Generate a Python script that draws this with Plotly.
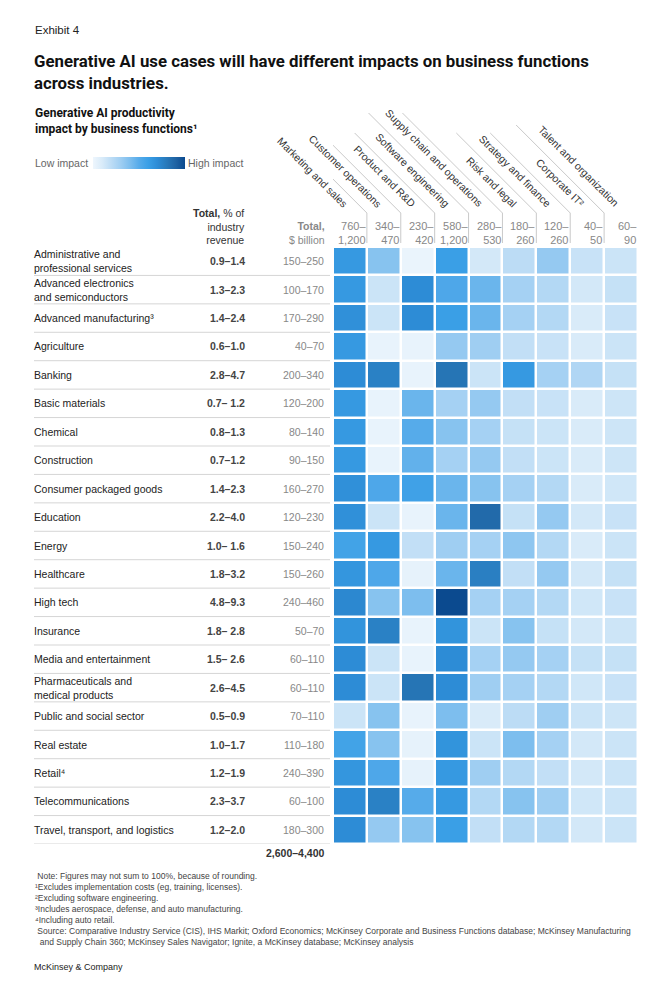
import plotly.graph_objects as go

W, H = 667, 990

functions = ["Marketing and sales", "Customer operations", "Product and R&D",
             "Software engineering", "Supply chain and operations", "Risk and legal",
             "Strategy and finance", "Corporate IT²", "Talent and organization"]
function_totals = ["760–1,200", "340–470", "230–420", "580–1,200", "280–530",
                   "180–260", "120–260", "40–50", "60–90"]

industries = ["Administrative and\nprofessional services",
              "Advanced electronics\nand semiconductors",
              "Advanced manufacturing³", "Agriculture", "Banking", "Basic materials",
              "Chemical", "Construction", "Consumer packaged goods", "Education",
              "Energy", "Healthcare", "High tech", "Insurance", "Media and entertainment",
              "Pharmaceuticals and\nmedical products", "Public and social sector",
              "Real estate", "Retail⁴", "Telecommunications",
              "Travel, transport, and logistics"]
revenue_pct = ["0.9–1.4", "1.3–2.3", "1.4–2.4", "0.6–1.0", "2.8–4.7", "0.7– 1.2",
               "0.8–1.3", "0.7–1.2", "1.4–2.3", "2.2–4.0", "1.0– 1.6", "1.8–3.2",
               "4.8–9.3", "1.8– 2.8", "1.5– 2.6", "2.6–4.5", "0.5–0.9", "1.0–1.7",
               "1.2–1.9", "2.3–3.7", "1.2–2.0"]
value_bn = ["150–250", "100–170", "170–290", "40–70", "200–340", "120–200", "80–140",
            "90–150", "160–270", "120–230", "150–240", "150–260", "240–460", "50–70",
            "60–110", "60–110", "70–110", "110–180", "240–390", "60–100", "180–300"]
grand_total = "2,600–4,400"

# impact index (0 = low, 100 = high), estimated from cell shading
impact = [
    [63, 37, 2, 60, 12, 20, 33, 16, 15],
    [63, 15, 70, 53, 45, 28, 23, 12, 17],
    [68, 15, 70, 60, 45, 28, 23, 10, 16],
    [63, 3, 3, 33, 30, 18, 16, 10, 15],
    [70, 76, 3, 82, 15, 63, 28, 24, 17],
    [63, 3, 45, 28, 33, 18, 16, 10, 14],
    [63, 3, 50, 37, 28, 17, 15, 10, 14],
    [63, 3, 47, 28, 33, 18, 15, 10, 14],
    [68, 53, 58, 45, 37, 28, 23, 10, 13],
    [68, 15, 3, 45, 87, 17, 33, 12, 16],
    [57, 63, 18, 30, 28, 35, 23, 10, 15],
    [65, 53, 4, 45, 77, 18, 33, 12, 17],
    [72, 37, 40, 100, 28, 28, 23, 13, 16],
    [66, 76, 3, 66, 15, 37, 17, 12, 14],
    [70, 15, 3, 70, 28, 33, 28, 17, 17],
    [70, 15, 82, 70, 30, 28, 23, 13, 16],
    [15, 37, 3, 40, 10, 20, 30, 15, 14],
    [57, 37, 4, 66, 15, 40, 28, 12, 15],
    [65, 53, 4, 63, 30, 23, 18, 12, 15],
    [70, 76, 50, 63, 23, 37, 30, 13, 15],
    [70, 33, 37, 60, 18, 23, 23, 12, 15],
]

FONT = "Liberation Sans"
TFONT = "Roboto"
colorscale = [
    [0.0, "#eef6fd"], [0.1, "#d9ebf9"], [0.2, "#bcdcf5"], [0.3, "#9fcef2"],
    [0.4, "#7dbeee"], [0.5, "#56abea"], [0.6, "#3a9fe6"], [0.7, "#2d8cd6"],
    [0.8, "#2879ba"], [0.9, "#1f63a3"], [1.0, "#0b4a8f"],
]

ind_keys = [s.replace("\n", " ") for s in industries]

# pixel layout helpers
X0, X1 = 333, 638
Y0, Y1 = 247, 844
def px(x): return x / W
def py(y): return 1 - y / H

fig = go.Figure(go.Heatmap(
    z=impact, x=functions, y=ind_keys, zmin=0, zmax=100,
    colorscale=colorscale, xgap=2.5, ygap=2.5, hoverinfo="skip",
    colorbar=dict(orientation="h", x=px(139), xanchor="center", y=py(163),
                  yanchor="middle", len=92, lenmode="pixels", thickness=12,
                  thicknessmode="pixels", outlinewidth=0, showticklabels=False,
                  ticks="", xpad=0, ypad=0),
))

fig.update_layout(
    width=W, height=H, margin=dict(l=0, r=0, t=0, b=0, autoexpand=False),
    paper_bgcolor="white", plot_bgcolor="white",
    font=dict(family=FONT, color="#222"),
    xaxis=dict(domain=[px(X0), px(X1)], range=[-0.5, len(functions) - 0.5],
               autorange=False, showticklabels=False, showgrid=False,
               zeroline=False, ticks="", fixedrange=True),
    yaxis=dict(domain=[py(Y1), py(Y0)], range=[len(industries) - 0.5, -0.5],
               autorange=False, showticklabels=False, showgrid=False,
               zeroline=False, ticks="", fixedrange=True),
)

ann = []
def A(**k):
    k.setdefault("showarrow", False)
    ann.append(k)

# titles
A(text="Exhibit 4", xref="paper", yref="paper", x=px(33), y=py(30), xanchor="left",
  yanchor="middle", font=dict(size=11.5, color="#222"))
A(text="<b>Generative AI use cases will have different impacts on business functions<br>across industries.</b>",
  xref="paper", yref="paper", x=px(32), y=py(72), xanchor="left", yanchor="middle",
  align="left", font=dict(family=TFONT, size=16.8, color="#111"))
A(text="<b>Generative AI productivity<br>impact by business functions¹</b>",
  xref="paper", yref="paper", x=px(33), y=py(121), xanchor="left", yanchor="middle",
  align="left", font=dict(family=TFONT, size=12, color="#111"))
A(text="Low impact", xref="paper", yref="paper", x=px(33), y=py(163), xanchor="left",
  yanchor="middle", font=dict(size=10.5, color="#666"))
A(text="High impact", xref="paper", yref="paper", x=px(186), y=py(163), xanchor="left",
  yanchor="middle", font=dict(size=10.5, color="#666"))

# column headers left
A(text="<b>Total,</b> % of<br>industry<br>revenue", xref="paper", yref="paper",
  x=px(247), y=py(226), xanchor="right", yanchor="middle", align="right",
  font=dict(size=10.5, color="#333"))
A(text="<b>Total,</b><br>$ billion", xref="paper", yref="paper",
  x=px(327), y=py(233), xanchor="right", yanchor="middle", align="right",
  font=dict(size=10.5, color="#888"))

# function totals and labels
for f, t in zip(functions, function_totals):
    a, b = t.split("–")
    A(text=f"{a}–<br>{b}", xref="x", yref="paper", x=f, xshift=18, y=py(233),
      xanchor="right", yanchor="middle", align="right", font=dict(size=11, color="#888"))
    A(text=f, xref="x", yref="paper", x=f, xshift=3, y=py(212), xanchor="right",
      yanchor="bottom", textangle=45, font=dict(size=10.5, color="#333"))

# row labels
for name, key, r, v in zip(industries, ind_keys, revenue_pct, value_bn):
    A(text=name.replace("\n", "<br>"), xref="paper", yref="y", x=px(32), y=key,
      xanchor="left", yanchor="middle", align="left", font=dict(size=10.5, color="#222"))
    A(text=f"<b>{r}</b>", xref="paper", yref="y", x=px(247), y=key, xanchor="right",
      yanchor="middle", font=dict(size=10.5, color="#444"))
    A(text=v, xref="paper", yref="y", x=px(326), y=key, xanchor="right",
      yanchor="middle", font=dict(size=10.5, color="#888"))

A(text=f"<b>{grand_total}</b>", xref="paper", yref="paper", x=px(327), y=py(853),
  xanchor="right", yanchor="middle", font=dict(size=10.5, color="#333"))

notes = ("&nbsp;Note: Figures may not sum to 100%, because of rounding.<br>"
         "¹Excludes implementation costs (eg, training, licenses).<br>"
         "²Excluding software engineering.<br>"
         "³Includes aerospace, defense, and auto manufacturing.<br>"
         "⁴Including auto retail.<br>"
         "&nbsp;Source: Comparative Industry Service (CIS), IHS Markit; Oxford Economics; McKinsey Corporate and Business Functions database; McKinsey Manufacturing<br>"
         "&nbsp;&nbsp;and Supply Chain 360; McKinsey Sales Navigator; Ignite, a McKinsey database; McKinsey analysis")
A(text=notes, xref="paper", yref="paper", x=px(33), y=py(869), xanchor="left",
  yanchor="top", align="left", font=dict(size=8.5, color="#444"))
A(text="McKinsey & Company", xref="paper", yref="paper", x=px(32), y=py(967),
  xanchor="left", yanchor="middle", font=dict(size=9, color="#222"))

fig.update_layout(annotations=ann)

# row separator lines
shapes = []
for i in range(len(industries)):
    shapes.append(dict(type="line", xref="paper", yref="y", x0=px(34), x1=px(330),
                       y0=i + 0.5, y1=i + 0.5, line=dict(color="#d5d5d5", width=1)))
# column separators: vertical + diagonal
cellw = (X1 - X0) / len(functions)
tops = [80, 80, 80, 100, 100, 80, 80, 88]
for k in range(len(functions) - 1):
    xs = k + 0.5
    shapes.append(dict(type="line", xref="x", yref="paper", x0=xs, x1=xs,
                       y0=py(243), y1=py(213), line=dict(color="#bbb", width=0.8)))
    L = tops[k]
    shapes.append(dict(type="line", xref="x", yref="paper", x0=xs, x1=xs - L / cellw,
                       y0=py(213), y1=py(213 - L), line=dict(color="#bbb", width=0.8)))
fig.update_layout(shapes=shapes)

fig.write_html("out.html", config={"displayModeBar": False},
               post_script="document.body.style.margin='0';")
